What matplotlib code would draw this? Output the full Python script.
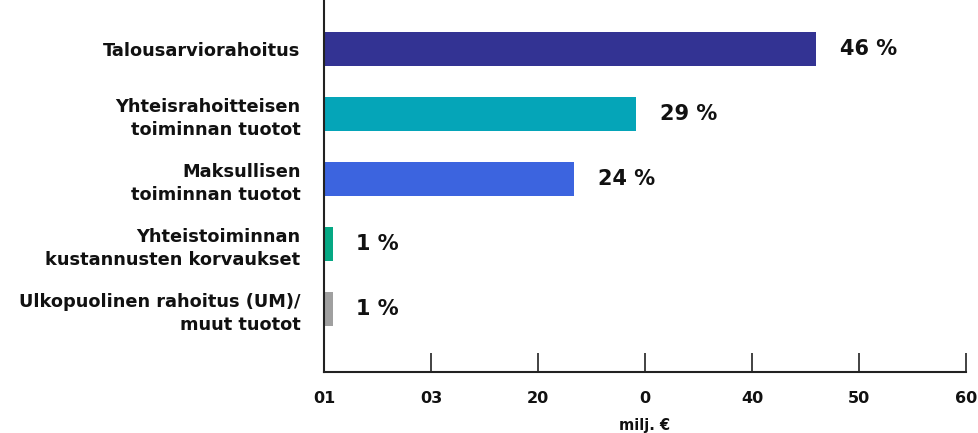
import matplotlib
matplotlib.use("Agg")
import matplotlib.pyplot as plt

categories = [
    "Talousarviorahoitus",
    "Yhteisrahoitteisen\ntoiminnan tuotot",
    "Maksullisen\ntoiminnan tuotot",
    "Yhteistoiminnan\nkustannusten korvaukset",
    "Ulkopuolinen rahoitus (UM)/\nmuut tuotot",
]
values = [46.0, 29.2, 23.4, 0.8, 0.8]
pct_labels = ["46 %", "29 %", "24 %", "1 %", "1 %"]
colors = ["#333393", "#05A5B8", "#3C64DF", "#05A883", "#A0A0A0"]
xticks = [0, 10, 20, 30, 40, 50, 60]
xtick_labels = ["01", "03", "20", "0", "40", "50", "60"]

plt.rcParams["font.family"] = ["DejaVu Sans"]
plt.rcParams["font.weight"] = "bold"

fig = plt.figure(figsize=(9.79, 4.33), dpi=100)
ax = fig.add_axes([324 / 979, 1 - 372 / 433, (966 - 324) / 979, 372 / 433])

ypos = list(range(len(categories)))
ax.barh(ypos, values, height=0.52, color=colors, zorder=2)

for y, v, lab in zip(ypos, values, pct_labels):
    ax.annotate(lab, xy=(v, y), xytext=(17, 0), textcoords="offset points",
                ha="left", va="center", fontsize=15, fontweight="bold", color="#111111")

ax.set_xlim(0, 60)
ax.set_ylim(4.97, -0.754)
ax.set_yticks(ypos)
ax.set_yticklabels(categories, fontsize=12.8, fontweight="bold", color="#111111",
                   multialignment="right", linespacing=1.38)
ax.tick_params(axis="y", length=0, pad=17)
ax.set_xticks(xticks)
ax.set_xticklabels(xtick_labels, fontsize=11.5, fontweight="bold", color="#111111")
ax.tick_params(axis="x", direction="in", length=14, width=1.2, pad=14, color="#222222")

for s in ["top", "right"]:
    ax.spines[s].set_visible(False)
for s in ["left", "bottom"]:
    ax.spines[s].set_linewidth(1.5)
    ax.spines[s].set_color("#222222")

ax.set_xlabel("milj. €", fontsize=10.5, fontweight="bold", color="#111111", labelpad=8)

fig.savefig("out.png", dpi=100)
